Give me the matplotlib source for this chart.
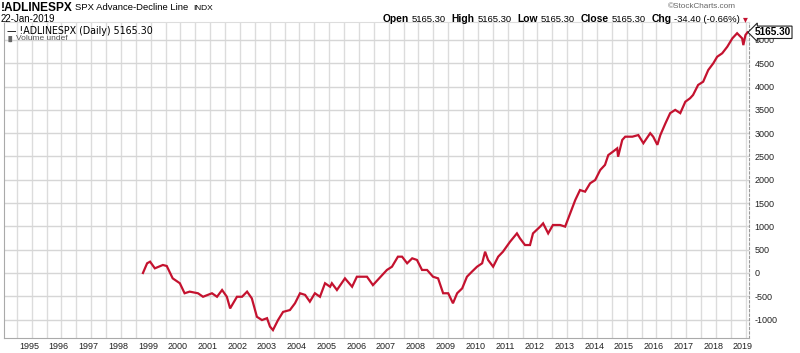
import numpy as np
import matplotlib.pyplot as plt

# A/D line (decimal year, value)
years = [1998.74, 1998.88, 1998.98, 1999.14, 1999.41, 1999.54, 1999.74, 1999.98,
         2000.14, 2000.31, 2000.59, 2000.76, 2001.06, 2001.23, 2001.40, 2001.56,
         2001.67, 2001.90, 2002.07, 2002.24, 2002.40, 2002.57, 2002.74, 2002.91,
         2003.01, 2003.11, 2003.28, 2003.45, 2003.68, 2003.85, 2004.02, 2004.19,
         2004.35, 2004.52, 2004.69, 2004.86, 2005.03, 2005.09, 2005.26, 2005.53,
         2005.77, 2005.93, 2006.27, 2006.47, 2006.78, 2006.94, 2007.11, 2007.31,
         2007.45, 2007.62, 2007.79, 2007.95, 2008.12, 2008.29, 2008.49, 2008.66,
         2008.83, 2009.00, 2009.16, 2009.30, 2009.47, 2009.63, 2009.80, 2009.97,
         2010.14, 2010.24, 2010.34, 2010.51, 2010.68, 2010.84, 2011.08, 2011.31,
         2011.41, 2011.58, 2011.75, 2011.85, 2012.09, 2012.19, 2012.36, 2012.52,
         2012.76, 2012.93, 2013.10, 2013.27, 2013.43, 2013.60, 2013.77, 2013.94,
         2014.11, 2014.27, 2014.38, 2014.54, 2014.68, 2014.71, 2014.85, 2014.95,
         2015.19, 2015.39, 2015.56, 2015.79, 2015.89, 2016.03, 2016.13, 2016.30,
         2016.46, 2016.63, 2016.80, 2016.97, 2017.13, 2017.23, 2017.40, 2017.57,
         2017.74, 2017.91, 2018.04, 2018.21, 2018.38, 2018.55, 2018.71, 2018.88,
         2018.92, 2018.99, 2019.06]
adline = [0, 208, 243, 100, 172, 150, -115, -220,
          -435, -400, -435, -510, -435, -510, -365, -510,
          -760, -510, -510, -400, -545, -940, -1010, -970,
          -1150, -1225, -1010, -835, -795, -650, -435, -470,
          -615, -435, -510, -220, -295, -220, -365, -115,
          -295, -80, -80, -260, -45, 65, 135, 350,
          350, 208, 315, 280, 65, 65, -80, -115,
          -435, -435, -650, -435, -330, -80, 30, 135,
          208, 457, 280, 135, 350, 457, 672, 850,
          745, 600, 600, 850, 995, 1065, 850, 1030,
          1030, 995, 1280, 1565, 1780, 1745, 1925, 1995,
          2210, 2320, 2530, 2605, 2675, 2495, 2855, 2925,
          2925, 2960, 2785, 3000, 2925, 2750, 2960, 3210,
          3430, 3500, 3430, 3675, 3750, 3820, 4035, 4105,
          4355, 4500, 4640, 4715, 4855, 5035, 5145, 5035,
          4890, 5105, 5165.30]

year_labels = list(range(1995, 2020))
y_ticks = list(range(-1000, 5001, 500))
last_value = 5165.30
quote = [('Open', '5165.30'), ('High', '5165.30'), ('Low', '5165.30'),
         ('Close', '5165.30'), ('Chg', '-34.40 (-0.66%)')]

W, H = 800, 353
fig = plt.figure(figsize=(W / 100, H / 100), dpi=100)
ax = fig.add_axes([4 / W, (H - 338) / H, 745 / W, 316 / H])

ax.plot(years, adline, color='#c4122f', lw=1.6, solid_joinstyle='miter')

# labels sit a touch left of the January gridline
ax.set_xticks([y - 0.09 for y in year_labels])
ax.set_xticklabels([str(y) for y in year_labels], fontsize=6.5,
                   family='Liberation Sans', color='#222222')
ax.set_xticks([y + h for y in year_labels for h in (0, 0.5)] + [1994.5], minor=True)
ax.tick_params(axis='x', which='both', length=0, pad=3)

ax.set_yticks(y_ticks)
ax.yaxis.tick_right()
ax.set_yticklabels([str(v) for v in y_ticks], fontsize=6.5,
                   family='Liberation Sans', color='#222222', ha='left')
ax.tick_params(axis='y', length=0, pad=4)

ax.set_xlim(1994.07, 2019.11)
ax.set_ylim(-1395, 5386)

ax.grid(True, which='major', axis='y', color='#d6d6d6', lw=1)
ax.grid(True, which='minor', axis='x', color='#dcdcdc', lw=1)
ax.set_axisbelow(True)
ax.spines['top'].set_color('#dddddd')
ax.spines['left'].set_color('#aaaaaa')
ax.spines['bottom'].set_color('#aaaaaa')
ax.spines['right'].set_color('#999999')
ax.spines['right'].set_linestyle((0, (2, 2)))

# price tag at the right edge
ax.annotate(f'{last_value:.2f}', xy=(1, last_value), xycoords=('axes fraction', 'data'),
            xytext=(4, 0), textcoords='offset points', va='center', ha='left',
            fontsize=7.2, fontweight='bold', family='Liberation Sans',
            bbox=dict(boxstyle='larrow,pad=0.12', fc='white', ec='#222222', lw=0.8),
            annotation_clip=False, zorder=5)

def ptext(x, y, s, family='Liberation Sans', **kw):
    return fig.text(x / W, 1 - y / H, s, va='center', ha='left', family=family, **kw)

ptext(1, 8, '!ADLINESPX', fontsize=8.6, fontweight='bold')
ptext(75, 8, 'SPX Advance-Decline Line', fontsize=6.8)
ptext(193, 8.5, 'INDX', fontsize=6)
ptext(1, 19, '22-Jan-2019', fontsize=7)
ptext(668, 7, '\u00a9StockCharts.com', fontsize=5.9, color='#666666')

# quote line laid out word after word
renderer = fig.canvas.get_renderer()
x = 383
for name, val in quote:
    t = ptext(x, 19, name, fontsize=7.4, fontweight='bold')
    x = t.get_window_extent(renderer).x1 + 2.5
    t = ptext(x, 19, val, fontsize=6.8)
    x = t.get_window_extent(renderer).x1 + 6
ptext(x - 3, 19.5, '\u25be', fontsize=7, color='#c4122f', family='DejaVu Sans')

ptext(7, 31, '\u2014 !ADLINESPX (Daily) 5165.30', fontsize=6.85, family='DejaVu Sans')
ptext(6, 39, '\u2590\u258c', fontsize=4.5, family='DejaVu Sans', color='#666666')
ptext(16, 39, 'Volume undef', fontsize=6, color='#555555')

fig.savefig('out.png', dpi=100, facecolor='white')
